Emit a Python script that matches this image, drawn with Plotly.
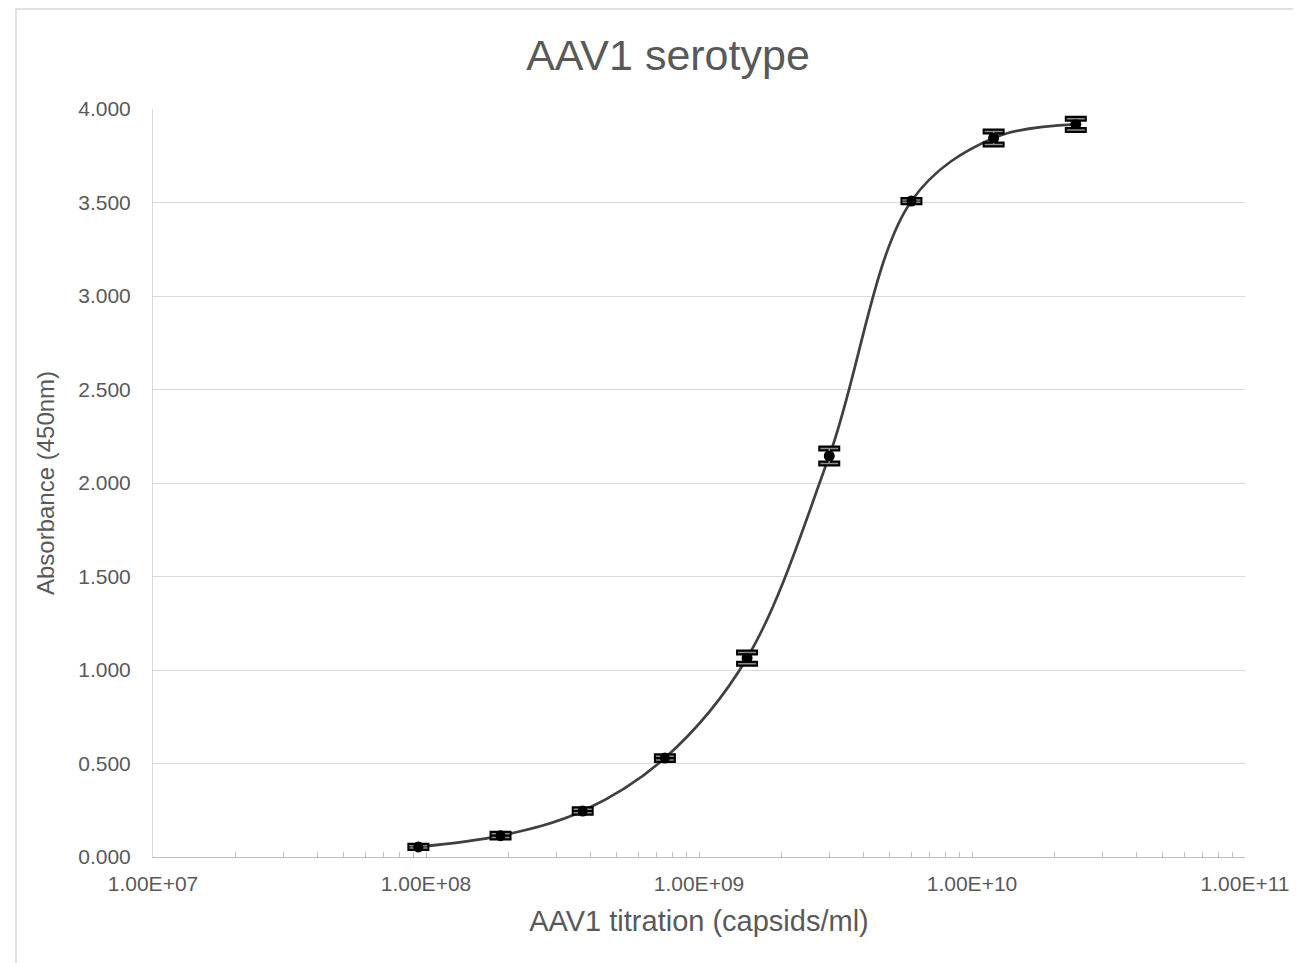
import plotly.graph_objects as go

# Data
titration = [9.375e7, 1.875e8, 3.75e8, 7.5e8, 1.5e9, 3.0e9, 6.0e9, 1.2e10, 2.4e10]
absorbance = [0.054, 0.114, 0.246, 0.529, 1.064, 2.144, 3.508, 3.845, 3.918]
abs_err = [0.006, 0.010, 0.010, 0.010, 0.030, 0.040, 0.006, 0.035, 0.030]

x_tickvals = [1e7, 1e8, 1e9, 1e10, 1e11]
x_ticktext = ["1.00E+07", "1.00E+08", "1.00E+09", "1.00E+10", "1.00E+11"]
x_minor_ticks = [m * 10 ** e for e in range(7, 11) for m in range(2, 10)]
y_tickvals = [0, 0.5, 1.0, 1.5, 2.0, 2.5, 3.0, 3.5, 4.0]
y_ticktext = ["0.000", "0.500", "1.000", "1.500", "2.000", "2.500", "3.000", "3.500", "4.000"]

FONT = "Liberation Sans, Arial, sans-serif"
TXT = "#595959"

# page body has an 8px margin; figure sized to fit inside the 1301x963 window
OFF = 8
W, H = 1301 - OFF, 963 - OFF
L, T = 153 - OFF, 109 - OFF
R, B = 48, 963 - 857
PW, PH = W - L - R, H - T - B

fig = go.Figure()

# smoothed curve
fig.add_trace(go.Scatter(
    x=titration, y=absorbance, mode="lines",
    line=dict(color="#404040", width=2.7, shape="spline", smoothing=1.0),
    hoverinfo="skip", showlegend=False))

# error bars: black body
fig.add_trace(go.Scatter(
    x=titration, y=absorbance, mode="markers",
    marker=dict(color="black", size=11, symbol="circle"),
    error_y=dict(type="data", array=abs_err, visible=True,
                 color="black", thickness=6, width=11),
    showlegend=False))
# error bars: grey center stripe on caps
fig.add_trace(go.Scatter(
    x=titration, y=absorbance, mode="markers",
    marker=dict(color="black", size=10, symbol="circle"),
    error_y=dict(type="data", array=abs_err, visible=True,
                 color="#8c8c8c", thickness=1.5, width=9),
    showlegend=False))

# outer chart frame (page px converted to paper coords)
def px_x(px):
    return (px - OFF - L) / PW

def px_y(py):
    return (H - B - (py - OFF)) / PH

fig.add_shape(type="rect", xref="paper", yref="paper",
              x0=px_x(15), x1=px_x(1340), y0=px_y(1000), y1=px_y(9),
              line=dict(color="#d9d9d9", width=1.5), fillcolor="rgba(0,0,0,0)",
              layer="below")
fig.add_shape(type="rect", xref="paper", yref="paper",
              x0=px_x(480), x1=px_x(1340), y0=px_y(8), y1=px_y(-20),
              line=dict(width=0), fillcolor="#eeeeee", layer="below")

fig.update_layout(
    width=W, height=H,
    margin=dict(l=L, r=R, t=T, b=B),
    paper_bgcolor="white", plot_bgcolor="white",
    font=dict(family=FONT, color=TXT),
    title=dict(text="AAV1 serotype", x=(668 - OFF) / W, xref="container", xanchor="center",
               y=1 - (55 - OFF) / H, yref="container", yanchor="middle",
               font=dict(size=43, color=TXT, family=FONT)),
    xaxis=dict(
        type="log", range=[7, 11],
        tickvals=x_tickvals, ticktext=x_ticktext,
        tickfont=dict(size=21, color=TXT),
        showgrid=False, zeroline=False,
        showline=True, linecolor="#bfbfbf", linewidth=1,
        ticks="inside", ticklen=5, tickcolor="#bfbfbf",
        ticklabelstandoff=8,
        minor=dict(tickmode="array", tickvals=x_minor_ticks,
                   ticks="inside", ticklen=5, tickcolor="#bfbfbf", showgrid=False),
        title=dict(text="AAV1 titration (capsids/ml)", font=dict(size=29, color=TXT), standoff=16),
    ),
    yaxis=dict(
        range=[0, 4], tickvals=y_tickvals, ticktext=y_ticktext,
        tickfont=dict(size=21, color=TXT),
        showgrid=True, gridcolor="#d9d9d9", gridwidth=1,
        zeroline=False, showline=True, linecolor="#d9d9d9", linewidth=1,
        ticks="", ticklabelstandoff=17,
        title=dict(text="Absorbance (450nm)", font=dict(size=24, color=TXT), standoff=16),
    ),
)

fig.write_html("out.html")
